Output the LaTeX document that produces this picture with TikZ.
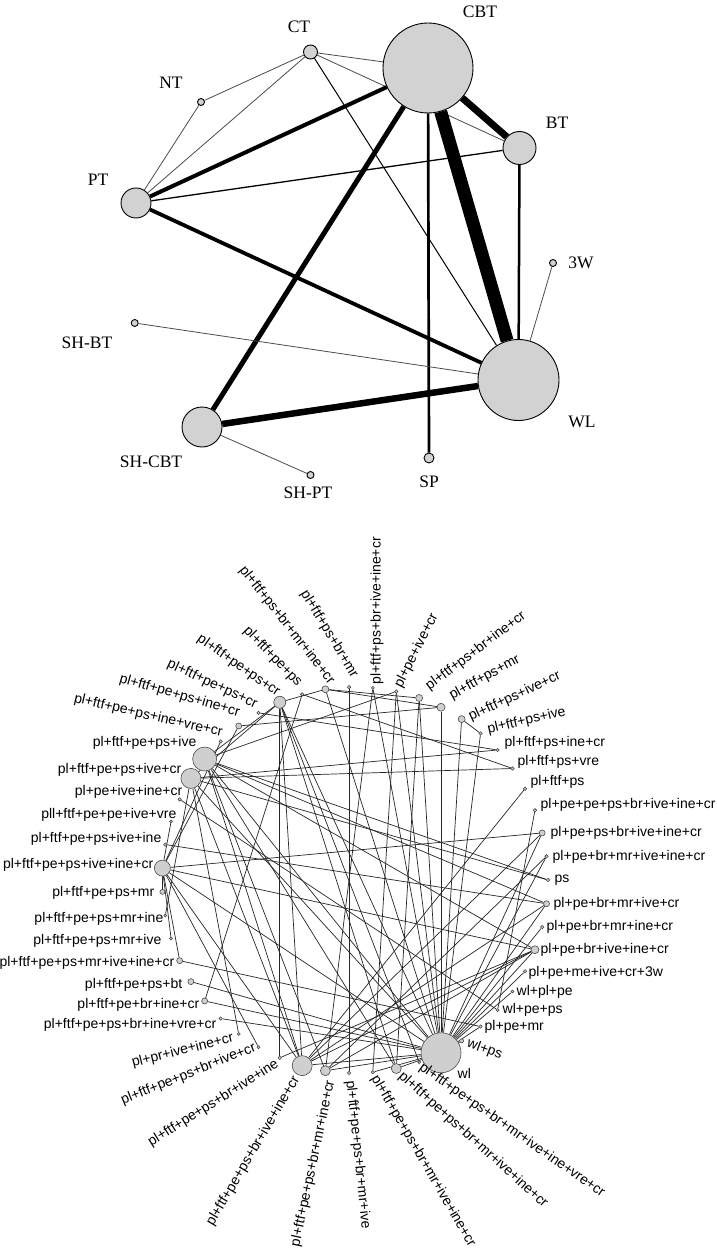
\documentclass[tikz,border=0pt]{standalone}
\usepackage{fontspec}
\setmainfont{Liberation Serif}
\newfontfamily\labsans{Liberation Sans}
\usetikzlibrary{backgrounds}
\begin{document}
\begin{tikzpicture}[x=1pt,y=-1pt,
  tnode/.style={circle,draw=black,line width=0.9pt,fill=gray!35,inner sep=0pt},
  tlab/.style={font=\fontsize{17.5}{20}\selectfont,inner sep=0pt},
  bnode/.style={circle,draw=black!75,line width=0.55pt,fill=gray!38,inner sep=0pt},
  blab/.style={font=\labsans\fontsize{14}{16}\selectfont,inner sep=0.5pt},
  tedge/.style={draw=black,line cap=butt},
  thinedge/.style={draw=black!70,line width=0.8pt},
  bedge/.style={draw=black!85,line width=0.7pt}]
\useasboundingbox (0,0) rectangle (716,1249);
% ---------------- top network: nodes ----------------
\node[tnode,minimum size=90pt] (CBT) at (428,68) {};
\node[tnode,minimum size=14pt] (CT) at (310.5,52) {};
\node[tnode,minimum size=7pt] (NT) at (201,102) {};
\node[tnode,minimum size=33pt] (BT) at (519.5,148) {};
\node[tnode,minimum size=30pt] (PT) at (136,203) {};
\node[tnode,minimum size=7pt] (W3) at (553,263) {};
\node[tnode,minimum size=7pt] (SHBT) at (134.7,323) {};
\node[tnode,minimum size=81pt] (WL) at (518.5,380) {};
\node[tnode,minimum size=40pt] (SHCBT) at (202,427) {};
\node[tnode,minimum size=7pt] (SHPT) at (310.5,475) {};
\node[tnode,minimum size=10pt] (SP) at (429,458) {};
% labels
\node[tlab] (tCBT) at (480,12) {CBT};
\node[tlab] (tCT) at (299,27) {CT};
\node[tlab] (tNT) at (171,83) {NT};
\node[tlab] (tBT) at (557,123) {BT};
\node[tlab] (tPT) at (98,180) {PT};
\node[tlab] (t3W) at (581,263) {3W};
\node[tlab] (tSHBT) at (87,343) {SH-BT};
\node[tlab] (tWL) at (582,422) {WL};
\node[tlab] (tSHCBT) at (151,462) {SH-CBT};
\node[tlab] (tSP) at (429,482) {SP};
\node[tlab] (tSHPT) at (308,493) {SH-PT};
% ---------------- bottom network: nodes ----------------
\foreach \k/\rr in {0/1.7,1/1.7,2/3,3/1.7,4/1.7,5/1.7,6/1.7,7/1.7,8/3.5,9/4,10/3.5,11/1.7,12/1.5,13/1.7,14/3.5,15/1.7,16/6,17/1.7,18/3,19/1.7,20/12,21/10,22/1.7,23/1.5,24/1.7,25/8,26/2.5,27/1.5,28/1.5,29/3,30/3,31/3,32/1.7,33/1.5,34/1.5,35/1.7,36/10,37/5,38/1.7,39/1.7,40/5,41/1.5,42/20,43/2,44/1.7,45/1.5,46/1.5,47/1.7,48/4,49/1.7,50/3}{
  \pgfmathsetmacro\ang{\k*7.0588235}
  \pgfmathsetmacro\dia{2*\rr}
  \node[bnode,minimum size=\dia pt] (b\k) at ({355+193*cos(\ang)},{880-193*sin(\ang)}) {};
}
% labels
\foreach \k/\x/\y/\rot/\anc/\txt in {
 0/554/880/0/west/ps,
 1/552/857/0/west/pl+pe+br+mr+ive+ine+cr,
 2/550/833/0/west/pl+pe+ps+br+ive+ine+cr,
 3/540/805/0/west/pl+pe+pe+ps+br+ive+ine+cr,
 4/530/782/0/west/pl+ftf+ps,
 5/517/762/0/west/pl+ftf+ps+vre,
 6/504/743/0/west/pl+ftf+ps+ine+cr,
 7/487/730/13/west/pl+ftf+ps+ive,
 8/469/718/25/west/pl+ftf+ps+ive+cr,
 9/450/697/29/west/pl+ftf+ps+mr,
 10/427/688/37/west/pl+ftf+ps+br+ine+cr,
 11/398/687/63/west/pl+pe+ive+cr,
 12/377/685/90/west/pl+ftf+ps+br+ive+ine+cr,
 13/355/677/-59/east/pl+ftf+ps+br+mr,
 14/332/683/-52/east/pl+ftf+ps+br+mr+ine+cr,
 15/300/685/-46/east/pl+ftf+pe+ps,
 16/279/694/-35/east/pl+ftf+pe+ps+cr,
 17/257/705/-25/east/pl+ftf+pe+ps+cr,
 18/240/713/-16/east/pl+ftf+pe+ps+ine+cr,
 19/223/733/-13/east/pl+ftf+pe+ps+ine+vre+cr,
 20/197/743/0/east/pl+ftf+pe+ps+ive,
 21/182/770/0/east/pl+ftf+pe+ps+ive+cr,
 22/183/792/0/east/pl+pe+ive+ine+cr,
 23/177/815/0/east/pll+ftf+pe+pe+ive+vre,
 24/162/839/0/east/pl+ftf+pe+ps+ive+ine,
 25/154/865/0/east/pl+ftf+pe+ps+ive+ine+cr,
 26/155/893/0/east/pl+ftf+pe+ps+mr,
 27/164/919/0/east/pl+ftf+pe+ps+mr+ine,
 28/162/941/0/east/pl+ftf+pe+ps+mr+ive,
 29/175/963/0/east/pl+ftf+pe+ps+mr+ive+ine+cr,
 30/183/985/0/east/pl+ftf+pe+ps+bt,
 31/200/1005/0/east/pl+ftf+pe+br+ine+cr,
 32/217/1025/0/east/pl+ftf+pe+ps+br+ine+vre+cr,
 33/234/1038/14/east/pl+pr+ive+ine+cr,
 34/256/1047/22/east/pl+ftf+pe+ps+br+ive+cr,
 35/278/1063/32/east/pl+ftf+pe+ps+br+ive+ine,
 36/297/1077/59.5/east/pl+ftf+pe+ps+br+ive+ine+cr,
 37/331/1080/78/east/pl+ftf+pe+ps+br+mr+ine+cr,
 38/350/1080/-84/west/pl+ftf+pe+ps+br+mr+ive,
 39/374/1076/-60/west/pl+ftf+pe+ps+br+mr+ive+ine+cr,
 40/400/1074/-42/west/pl+ftf+pe+ps+br+mr+ive+ine+cr,
 41/420/1066/-35/west/pl+ftf+pe+ps+br+mr+ive+ine+vre+cr,
 42/457/1073/0/west/wl,
 43/467/1043/-20/west/wl+ps,
 44/484/1027/0/west/pl+pe+mr,
 45/502/1010/0/west/wl+pe+ps,
 46/516/992/0/west/wl+pl+pe,
 47/528/973/0/west/pl+pe+me+ive+cr+3w,
 48/540/950/0/west/pl+pe+br+ive+ine+cr,
 49/546/927/0/west/pl+pe+br+mr+ine+cr,
 50/553/904/0/west/pl+pe+br+mr+ive+cr}{
  \node[blab,rotate=\rot,anchor=\anc] (lb\k) at (\x,\y) {\txt};
}
% ---------------- edges (behind the nodes) ----------------
\begin{scope}[on background layer]
\fill[white] (0,0) rectangle (716,1249);
% top network
\draw[thinedge] (CT) -- (CBT);
\draw[thinedge] (CT) -- (NT);
\draw[thinedge] (CT) -- (PT);
\draw[thinedge] (CT.center) -- (BT);
\draw[tedge,line width=1pt] (CT) -- (WL);
\draw[thinedge] (NT) -- (PT);
\draw[tedge,line width=4pt] (PT) -- (CBT);
\draw[tedge,line width=1.3pt] (PT) -- (BT);
\draw[tedge,line width=3.8pt] (PT) -- (WL);
\draw[tedge,line width=7pt] (CBT) -- (BT);
\draw[tedge,line width=13pt] (CBT) -- (WL);
\draw[tedge,line width=5pt] (CBT) -- (SHCBT);
\draw[tedge,line width=2.7pt] (CBT) -- (SP);
\draw[tedge,line width=2.5pt] (BT) -- (WL);
\draw[thinedge] (W3) -- (WL);
\draw[thinedge] (SHBT) -- (WL);
\draw[tedge,line width=6.5pt] (SHCBT) -- (WL);
\draw[thinedge] (SHCBT) -- (SHPT);
% bottom network
\foreach \a/\b in {42/43,42/44,42/46,42/47,42/48,42/49,42/50,42/2,42/1,42/7,42/8,42/9,42/10,42/11,42/12,42/14,42/16,42/20,42/21,42/25,42/30,42/31,42/32,42/36,42/37,42/39,42/40,
 48/36,48/37,48/35,48/20,48/25,50/36,50/24,50/20,2/36,2/25,1/37,0/20,0/21,3/45,4/36,5/21,5/15,6/17,6/21,7/8,9/14,10/14,9/18,11/20,13/38,14/16,15/31,16/20,16/21,16/40,16/36,
 18/25,19/25,20/36,20/37,20/40,21/36,21/33,21/27,22/45,23/25,25/26,25/28,25/29,25/34,25/36,29/44,35/16,39/11,41/16,10/40,12/37}{
  \draw[bedge] (b\a) -- (b\b);
}
\end{scope}
\end{tikzpicture}
\end{document}
